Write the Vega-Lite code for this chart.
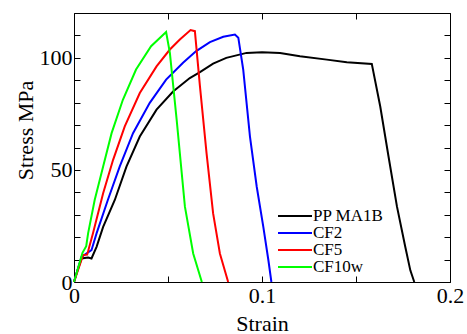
{
  "$schema": "https://vega.github.io/schema/vega-lite/v6.json",
  "width": 376,
  "height": 269,
  "autosize": {"type": "none"},
  "padding": {"left": 74, "top": 13, "right": 17, "bottom": 52},
  "background": "white",
  "config": {
    "view": {"stroke": "black", "strokeWidth": 1}
  },
  "data": {
    "values": [
      {"series": "PP MA1B", "strain": 0, "stress": 0},
      {"series": "PP MA1B", "strain": 0.0013, "stress": 3.8},
      {"series": "PP MA1B", "strain": 0.004, "stress": 10.5},
      {"series": "PP MA1B", "strain": 0.0075, "stress": 10.9},
      {"series": "PP MA1B", "strain": 0.0093, "stress": 10.5},
      {"series": "PP MA1B", "strain": 0.012, "stress": 15.7},
      {"series": "PP MA1B", "strain": 0.0155, "stress": 24.6},
      {"series": "PP MA1B", "strain": 0.0217, "stress": 36.6},
      {"series": "PP MA1B", "strain": 0.0279, "stress": 51.5},
      {"series": "PP MA1B", "strain": 0.035, "stress": 64.9},
      {"series": "PP MA1B", "strain": 0.0439, "stress": 76.9},
      {"series": "PP MA1B", "strain": 0.0527, "stress": 85},
      {"series": "PP MA1B", "strain": 0.0616, "stress": 91},
      {"series": "PP MA1B", "strain": 0.067, "stress": 93.6},
      {"series": "PP MA1B", "strain": 0.074, "stress": 97.4},
      {"series": "PP MA1B", "strain": 0.081, "stress": 100},
      {"series": "PP MA1B", "strain": 0.0918, "stress": 102.2},
      {"series": "PP MA1B", "strain": 0.1, "stress": 102.5},
      {"series": "PP MA1B", "strain": 0.1096, "stress": 102.2},
      {"series": "PP MA1B", "strain": 0.1202, "stress": 100.7},
      {"series": "PP MA1B", "strain": 0.1345, "stress": 99.2},
      {"series": "PP MA1B", "strain": 0.1451, "stress": 98},
      {"series": "PP MA1B", "strain": 0.1584, "stress": 97.3},
      {"series": "PP MA1B", "strain": 0.1629, "stress": 78.3},
      {"series": "PP MA1B", "strain": 0.1673, "stress": 56},
      {"series": "PP MA1B", "strain": 0.1718, "stress": 33.6},
      {"series": "PP MA1B", "strain": 0.1762, "stress": 15.7},
      {"series": "PP MA1B", "strain": 0.1789, "stress": 5.2},
      {"series": "PP MA1B", "strain": 0.181, "stress": 0},
      {"series": "CF2", "strain": 0, "stress": 0},
      {"series": "CF2", "strain": 0.004, "stress": 11.2},
      {"series": "CF2", "strain": 0.0066, "stress": 12.7},
      {"series": "CF2", "strain": 0.0093, "stress": 14.2},
      {"series": "CF2", "strain": 0.012, "stress": 21.7},
      {"series": "CF2", "strain": 0.018, "stress": 36.6},
      {"series": "CF2", "strain": 0.0243, "stress": 51.5},
      {"series": "CF2", "strain": 0.0314, "stress": 66.4},
      {"series": "CF2", "strain": 0.0403, "stress": 79.9},
      {"series": "CF2", "strain": 0.049, "stress": 90.3},
      {"series": "CF2", "strain": 0.058, "stress": 97.8},
      {"series": "CF2", "strain": 0.065, "stress": 103},
      {"series": "CF2", "strain": 0.0723, "stress": 107},
      {"series": "CF2", "strain": 0.0794, "stress": 109.4},
      {"series": "CF2", "strain": 0.0856, "stress": 110.4},
      {"series": "CF2", "strain": 0.0874, "stress": 109},
      {"series": "CF2", "strain": 0.09, "stress": 94.8},
      {"series": "CF2", "strain": 0.0936, "stress": 64.9},
      {"series": "CF2", "strain": 0.0972, "stress": 42.5},
      {"series": "CF2", "strain": 0.1007, "stress": 24.6},
      {"series": "CF2", "strain": 0.1034, "stress": 9.7},
      {"series": "CF2", "strain": 0.105, "stress": 0},
      {"series": "CF5", "strain": 0, "stress": 0},
      {"series": "CF5", "strain": 0.0048, "stress": 12},
      {"series": "CF5", "strain": 0.007, "stress": 12.2},
      {"series": "CF5", "strain": 0.0101, "stress": 21.7},
      {"series": "CF5", "strain": 0.0155, "stress": 39.6},
      {"series": "CF5", "strain": 0.0208, "stress": 54.5},
      {"series": "CF5", "strain": 0.027, "stress": 69.4},
      {"series": "CF5", "strain": 0.035, "stress": 84.3},
      {"series": "CF5", "strain": 0.0439, "stress": 96.2},
      {"series": "CF5", "strain": 0.051, "stress": 103.7},
      {"series": "CF5", "strain": 0.0563, "stress": 108.2},
      {"series": "CF5", "strain": 0.062, "stress": 112.4},
      {"series": "CF5", "strain": 0.0643, "stress": 111.9},
      {"series": "CF5", "strain": 0.067, "stress": 87.3},
      {"series": "CF5", "strain": 0.0705, "stress": 57.5},
      {"series": "CF5", "strain": 0.074, "stress": 30.6},
      {"series": "CF5", "strain": 0.0776, "stress": 12.7},
      {"series": "CF5", "strain": 0.082, "stress": 0},
      {"series": "CF10w", "strain": 0, "stress": 0},
      {"series": "CF10w", "strain": 0.0045, "stress": 13},
      {"series": "CF10w", "strain": 0.0065, "stress": 16},
      {"series": "CF10w", "strain": 0.0075, "stress": 21.7},
      {"series": "CF10w", "strain": 0.011, "stress": 36.6},
      {"series": "CF10w", "strain": 0.0155, "stress": 51.5},
      {"series": "CF10w", "strain": 0.02, "stress": 66.4},
      {"series": "CF10w", "strain": 0.026, "stress": 81.3},
      {"series": "CF10w", "strain": 0.033, "stress": 94.8},
      {"series": "CF10w", "strain": 0.041, "stress": 105.2},
      {"series": "CF10w", "strain": 0.049, "stress": 111.5},
      {"series": "CF10w", "strain": 0.051, "stress": 102.2},
      {"series": "CF10w", "strain": 0.0546, "stress": 72.4},
      {"series": "CF10w", "strain": 0.059, "stress": 33.6},
      {"series": "CF10w", "strain": 0.0634, "stress": 12.7},
      {"series": "CF10w", "strain": 0.068, "stress": 0}
    ]
  },
  "layer": [
    {
      "mark": {"type": "line", "strokeWidth": 2},
      "encoding": {
        "x": {
          "field": "strain", "type": "quantitative",
          "scale": {"domain": [0, 0.2], "nice": false, "zero": false},
          "axis": {
            "title": "Strain",
            "grid": false,
            "domain": false,
            "offset": -6,
            "tickColor": "black",
            "tickSize": 6,
            "labelColor": "black",
            "titleColor": "black",
            "labelFont": "Liberation Serif, Times New Roman, serif",
            "titleFont": "Liberation Serif, Times New Roman, serif",
            "labelFontSize": 22,
            "titleFontSize": 22,
            "titleFontWeight": "normal",
            "values": [0, 0.05, 0.1, 0.15, 0.2],
            "labelExpr": "round(datum.value*100) % 10 == 0 ? toString(round(datum.value*10)/10) : ''",
            "labelPadding": 3,
            "labelFlush": false,
            "titleY": 54,
            "titleBaseline": "alphabetic"
          }
        },
        "y": {
          "field": "stress", "type": "quantitative",
          "scale": {"domain": [0, 120], "nice": false},
          "axis": {
            "title": "Stress MPa",
            "grid": false,
            "domain": false,
            "offset": -6,
            "tickColor": "black",
            "tickSize": 6,
            "labelColor": "black",
            "titleColor": "black",
            "labelFont": "Liberation Serif, Times New Roman, serif",
            "titleFont": "Liberation Serif, Times New Roman, serif",
            "labelFontSize": 22,
            "titleFontSize": 22,
            "titleFontWeight": "normal",
            "values": [0, 10, 20, 30, 40, 50, 60, 70, 80, 90, 100, 110, 120],
            "labelExpr": "datum.value % 50 == 0 ? datum.label : ''",
            "labelPadding": 2,
            "labelFlush": false,
            "titleX": -55,
            "titleY": 117,
            "titleAngle": -90,
            "titleAlign": "center",
            "titleBaseline": "middle"
          }
        },
        "color": {
          "field": "series", "type": "nominal",
          "scale": {"domain": ["PP MA1B", "CF2", "CF5", "CF10w"], "range": ["#000000", "#0000ff", "#ff0000", "#00ff00"]},
          "legend": {
            "title": null,
            "orient": "none",
            "legendX": 212,
            "legendY": 194,
            "padding": 0,
            "symbolType": "M-2.125,0H2.125",
            "symbolSize": 256,
            "symbolStrokeWidth": 2,
            "symbolFillColor": "transparent",
            "labelFont": "Liberation Serif, Times New Roman, serif",
            "labelFontSize": 17,
            "labelColor": "black",
            "labelOffset": 9,
            "rowPadding": 0
          }
        }
      }
    },
    {
      "mark": {"type": "line", "strokeOpacity": 0},
      "encoding": {
        "x": {
          "field": "strain", "type": "quantitative",
          "scale": {"domain": [0, 0.2], "nice": false, "zero": false},
          "axis": {"orient": "top", "title": null, "labels": false, "grid": false, "domain": false, "offset": -6, "tickColor": "black", "tickSize": 6, "values": [0, 0.05, 0.1, 0.15, 0.2]}
        },
        "y": {
          "field": "stress", "type": "quantitative",
          "scale": {"domain": [0, 120], "nice": false},
          "axis": {"orient": "right", "title": null, "labels": false, "grid": false, "domain": false, "offset": -6, "tickColor": "black", "tickSize": 6, "values": [0, 10, 20, 30, 40, 50, 60, 70, 80, 90, 100, 110, 120]}
        },
        "detail": {"field": "series", "type": "nominal"}
      }
    }
  ],
  "resolve": {"axis": {"x": "independent", "y": "independent"}}
}
